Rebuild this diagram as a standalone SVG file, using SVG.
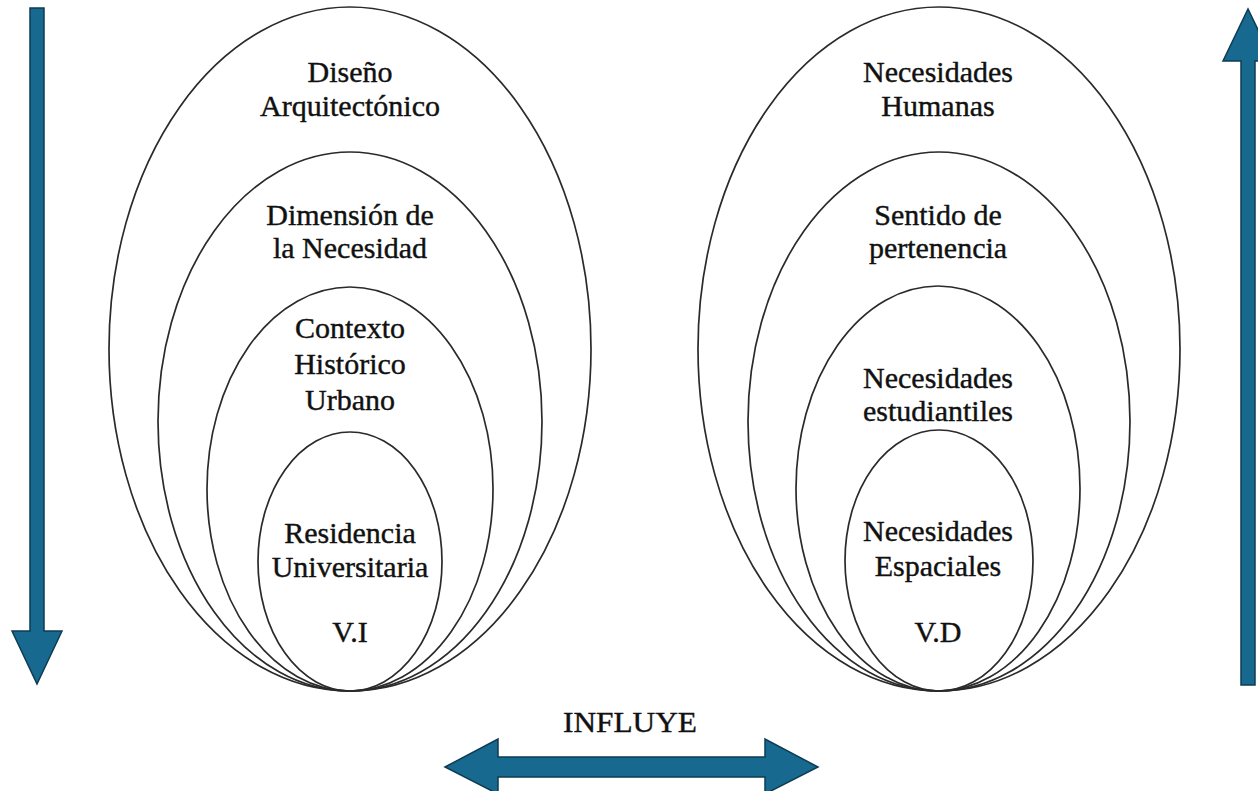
<svg xmlns="http://www.w3.org/2000/svg" width="1258" height="791" viewBox="0 0 1258 791">
<style>
.e{fill:none;stroke:#2a2a2a;stroke-width:1.7}
.t{font-family:"Liberation Serif","Times New Roman",serif;font-size:30px;fill:#111;stroke:#111;stroke-width:0.4;text-anchor:middle}
.a{fill:#17698f;stroke:#0e3c52;stroke-width:1.5;stroke-linejoin:miter}
</style>
<rect width="1258" height="791" fill="#fff"/>
<g id="left-outer"><ellipse class="e" cx="350" cy="349" rx="241" ry="342"/>
<text class="t" x="350" y="82">Diseño</text><text class="t" x="350" y="116">Arquitectónico</text></g>
<g id="left-second"><ellipse class="e" cx="350" cy="421.5" rx="192" ry="269.5"/>
<text class="t" x="350" y="225">Dimensión de</text><text class="t" x="350" y="258">la Necesidad</text></g>
<g id="left-third"><ellipse class="e" cx="350" cy="489" rx="143" ry="202"/>
<text class="t" x="350" y="338">Contexto</text><text class="t" x="350" y="374">Histórico</text><text class="t" x="350" y="410">Urbano</text></g>
<g id="left-inner"><ellipse class="e" cx="350" cy="561.5" rx="92" ry="129.5"/>
<text class="t" x="350" y="543">Residencia</text><text class="t" x="350" y="577">Universitaria</text><text class="t" x="350" y="642">V.I</text></g>
<g id="right-outer"><ellipse class="e" cx="939" cy="349" rx="241" ry="342"/>
<text class="t" x="938" y="82">Necesidades</text><text class="t" x="938" y="116">Humanas</text></g>
<g id="right-second"><ellipse class="e" cx="939" cy="421.5" rx="191" ry="269.5"/>
<text class="t" x="938" y="225">Sentido de</text><text class="t" x="938" y="258">pertenencia</text></g>
<g id="right-third"><ellipse class="e" cx="938" cy="488.5" rx="142" ry="202.5"/>
<text class="t" x="938" y="388">Necesidades</text><text class="t" x="938" y="421">estudiantiles</text></g>
<g id="right-inner"><ellipse class="e" cx="939" cy="560.5" rx="94" ry="130.5"/>
<text class="t" x="938" y="541">Necesidades</text><text class="t" x="938" y="576">Espaciales</text><text class="t" x="938" y="642">V.D</text></g>
<g id="connectors">
<polygon id="arrow-down" class="a" points="30,8 44,8 44,631 62,631 37,684 12,631 30,631"/>
<polygon id="arrow-up" class="a" points="1241,685 1255,685 1255,61 1273,61 1248,9 1223,61 1241,61"/>
<polygon id="arrow-both" class="a" points="445,767 498,739 498,757 765,757 765,739 818,767 765,794 765,777 498,777 498,794"/>
<text class="t" x="630" y="732" textLength="134" lengthAdjust="spacingAndGlyphs">INFLUYE</text>
</g>
</svg>
